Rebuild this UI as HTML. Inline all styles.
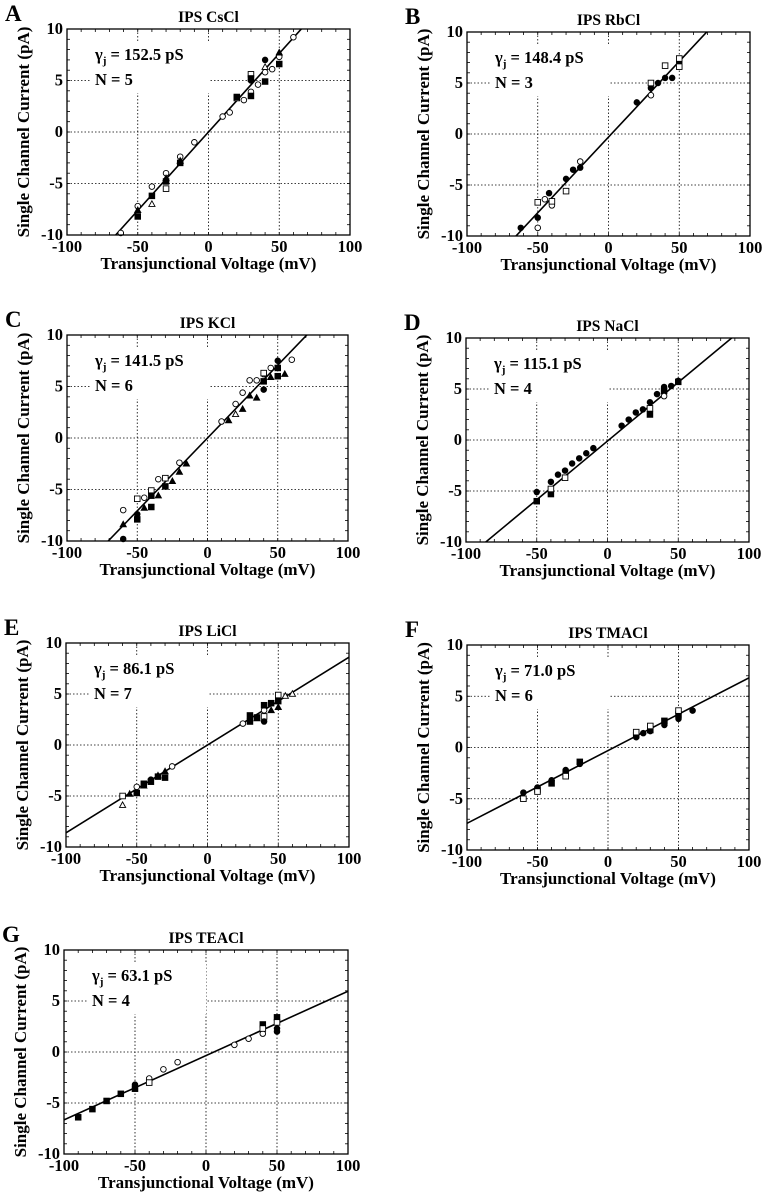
<!DOCTYPE html>
<html><head><meta charset="utf-8">
<style>
html,body{margin:0;padding:0;background:#fff;}
svg{display:block;font-family:"Liberation Serif",serif;font-weight:bold;}
</style></head>
<body>
<svg id="fig" width="768" height="1199" viewBox="0 0 768 1199" xmlns="http://www.w3.org/2000/svg"></svg>
<script>
// ---- data (mV, pA) ----
const xTicks = [-100, -50, 0, 50, 100];
const yTicks = [-10, -5, 0, 5, 10];
const panelLetters = ["A","B","C","D","E","F","G"];
const panelTitles = ["IPS CsCl","IPS RbCl","IPS KCl","IPS NaCl","IPS LiCl","IPS TMACl","IPS TEACl"];
const gammaValues = ["152.5","148.4","141.5","115.1","86.1","71.0","63.1"];
const nValues = [5,3,6,4,7,6,4];
const fitSlopes = [0.1525,0.1484,0.1415,0.1151,0.0861,0.071,0.0631];
const fitIntercepts = [0,-0.3,0,-0.1,0,-0.3,-0.35];

const dataA = {
 oc:[[-62,-9.8],[-50,-7.2],[-40,-5.3],[-30,-4],[-20,-2.4],[-10,-1],[10,1.5],[15,1.9],[25,3.1],[30,3.9],[35,4.6],[40,5.8],[45,6.1],[50,7.3],[60,9.2]],
 fc:[[40,7],[30,5]],
 os:[[30,5.6],[-30,-5.5],[20,3.3]],
 fs:[[-50,-8.2],[-40,-6.2],[-30,-4.8],[-20,-3],[20,3.4],[30,5.2],[30,3.5],[40,4.9],[50,6.6]],
 ot:[[-40,-7],[40,6.3]],
 ft:[[-50,-7.6],[50,7.7],[-30,-4.5],[-20,-2.8]]
};
const dataB = {
 fc:[[-62,-9.2],[-50,-8.2],[-42,-5.8],[-30,-4.4],[-25,-3.5],[-20,-3.3],[20,3.1],[30,4.5],[35,5],[40,5.5],[45,5.5],[50,7]],
 oc:[[-50,-9.2],[-45,-6.4],[-40,-7],[-20,-2.7],[30,3.8]],
 os:[[-50,-6.7],[-40,-6.6],[-30,-5.6],[30,5],[40,6.7],[50,7.4],[50,6.6]]
};
const dataC = {
 oc:[[-60,-7],[-45,-5.8],[-35,-4],[-20,-2.4],[10,1.6],[20,3.3],[25,4.4],[30,5.6],[35,5.6],[40,6.2],[45,6.8],[60,7.6]],
 os:[[-50,-5.9],[-40,-5.1],[-30,-3.9],[40,6.3]],
 fs:[[-50,-7.9],[-40,-5.6],[-40,-6.7],[-30,-4.7],[40,5.5],[50,6.8],[50,6]],
 fc:[[-60,-9.8],[-50,-7.4],[40,4.7],[50,7.5]],
 ft:[[-60,-8.4],[-45,-6.8],[-35,-5.6],[-25,-4.2],[-20,-3.3],[-15,-2.5],[15,1.7],[25,2.8],[35,3.9],[45,5.9],[55,6.2],[30,4.1]],
 ot:[[20,2.3]]
};
const dataD = {
 fc:[[-50,-5.1],[-40,-4.1],[-35,-3.4],[-30,-3],[-25,-2.3],[-20,-1.8],[-15,-1.3],[-10,-0.8],[10,1.4],[15,2],[20,2.7],[25,3],[30,3.7],[35,4.5],[40,5.2],[45,5.3],[50,5.8]],
 fs:[[-50,-6],[-40,-5.3],[30,2.5],[40,4.8],[50,5.7]],
 os:[[-30,-3.7],[30,3.1],[-40,-4.8]],
 oc:[[40,4.3]]
};
const dataE = {
 ft:[[-55,-4.8],[-45,-4],[-35,-3],[-30,-2.6],[35,2.6],[45,3.4],[50,3.7]],
 ot:[[-60,-5.9],[55,4.8],[60,5]],
 os:[[-60,-5],[50,4.9],[40,2.8]],
 oc:[[-50,-4.1],[-25,-2.1],[25,2.1],[40,3.4]],
 fs:[[-50,-4.7],[-45,-3.8],[-40,-3.6],[-35,-3.1],[-30,-3.2],[30,2.9],[30,2.3],[35,2.7],[40,3.9],[45,4.1],[50,4.3]],
 fc:[[-40,-3.4],[40,2.3]]
};
const dataF = {
 fc:[[-60,-4.4],[-50,-3.9],[-40,-3.2],[-30,-2.2],[-20,-1.6],[20,1],[25,1.4],[30,1.6],[40,2.2],[50,2.8],[60,3.6]],
 fs:[[-50,-4.1],[-40,-3.5],[-30,-2.5],[-20,-1.4],[20,1.2],[30,1.7],[40,2.6],[50,3.2]],
 os:[[-60,-5],[-50,-4.3],[-30,-2.8],[20,1.5],[30,2.1],[50,3.6]]
};
const dataG = {
 fs:[[-90,-6.4],[-80,-5.6],[-70,-4.8],[-60,-4.1],[-50,-3.6],[40,2.7],[50,3.4]],
 fc:[[-50,-3.2],[50,2],[50,2.3]],
 oc:[[-40,-2.6],[-30,-1.7],[-20,-1],[20,0.7],[30,1.3],[40,1.8]],
 os:[[-40,-3],[40,2.3],[50,2.9]]
};
const panelData = [dataA,dataB,dataC,dataD,dataE,dataF,dataG];

// layout (pixel boxes)
const boxes = [
 [67,350,29,235],[467,750,32,236],
 [67,348,335,541],[466,749,338,542],
 [66,349,643,847],[467,749,645,850],
 [64,348,950,1154]
];

const NS="http://www.w3.org/2000/svg";
const svg=document.getElementById('fig');
function mk(tag,attrs,parent){const e=document.createElementNS(NS,tag);for(const k in attrs)e.setAttribute(k,attrs[k]);(parent||svg).appendChild(e);return e;}

panelData.forEach((data,p)=>{
 const [L,R,T,B]=boxes[p];
 const sx=v=>L+(v+100)/200*(R-L);
 const sy=v=>B-(v+10)/20*(B-T);
 const g=mk('g',{});
 
 
 const lt=mk('text',{x:L-62,y:T-8,'font-size':23},g);lt.textContent=panelLetters[p];
 
 const tt=mk('text',{x:(L+R)/2,y:T-7,'font-size':15.5,'text-anchor':'middle'},g);tt.textContent=panelTitles[p];
 
 // grid
 xTicks.slice(1,-1).forEach(v=>{const l=mk('line',{x1:sx(v),x2:sx(v),y1:T,y2:B,stroke:'#000','stroke-width':0.8,'stroke-dasharray':'1.5,2'},g);
  });
 yTicks.slice(1,-1).forEach(v=>{const l=mk('line',{x1:L,x2:R,y1:sy(v),y2:sy(v),stroke:'#000','stroke-width':0.8,'stroke-dasharray':'1.5,2'},g);
  });
 // minor ticks
 for(let v=-90;v<100;v+=10){mk('line',{x1:sx(v),x2:sx(v),y1:T,y2:T+3,stroke:'#000','stroke-width':0.8},g);mk('line',{x1:sx(v),x2:sx(v),y1:B,y2:B-3,stroke:'#000','stroke-width':0.8},g);}
 for(let v=-9;v<10;v+=1){mk('line',{x1:L,x2:L+3,y1:sy(v),y2:sy(v),stroke:'#000','stroke-width':0.8},g);mk('line',{x1:R,x2:R-3,y1:sy(v),y2:sy(v),stroke:'#000','stroke-width':0.8},g);}
 // annotation with white background
 mk('rect',{x:L+24,y:T+14,width:118,height:50,fill:'#fff'},g);
 const gt=mk('text',{x:L+28,y:T+31,'font-size':16.5},g);
 
 gt.innerHTML='γ<tspan dy="4" font-size="11">j</tspan><tspan dy="-4"> = '+gammaValues[p]+' pS</tspan>';
 const nt=mk('text',{x:L+28,y:T+56,'font-size':16.5},g);nt.textContent='N = '+nValues[p];
 
 // clip
 const cid='clip'+p;const cp=mk('clipPath',{id:cid},g);mk('rect',{x:L,y:T,width:R-L,height:B-T},cp);
 // fit line
 const m=fitSlopes[p],c=fitIntercepts[p];
 const fl=mk('line',{x1:sx(-100),y1:sy(m*-100+c),x2:sx(100),y2:sy(m*100+c),stroke:'#000','stroke-width':1.6,'clip-path':'url(#'+cid+')'},g);
 
 // points
 const r=2.8;
 for(const type in data){data[type].forEach(([v,i])=>{
  const x=sx(v),y=sy(i);const filled=type[0]==='f';const fill=filled?'#000':'#fff';
  let e;
  if(type[1]==='c')e=mk('circle',{cx:x,cy:y,r:r,fill:fill,stroke:'#000','stroke-width':0.9},g);
  else if(type[1]==='s')e=mk('rect',{x:x-r,y:y-r,width:2*r,height:2*r,fill:fill,stroke:'#000','stroke-width':0.9},g);
  else e=mk('polygon',{points:`${x},${y-r-0.5} ${x-r-0.3},${y+r-0.5} ${x+r+0.3},${y+r-0.5}`,fill:fill,stroke:'#000','stroke-width':0.9},g);
  
 });}
 // frame
 const fr=mk('rect',{x:L,y:T,width:R-L,height:B-T,fill:'none',stroke:'#000','stroke-width':1.3},g);
 
 // tick labels
 xTicks.forEach(v=>{const t=mk('text',{x:sx(v),y:B+17,'font-size':16.5,'text-anchor':'middle'},g);t.textContent=v;
  });
 yTicks.forEach(v=>{const t=mk('text',{x:L-4,y:sy(v)+5,'font-size':16.5,'text-anchor':'end'},g);t.textContent=v;
  });
 const xt=mk('text',{x:(L+R)/2,y:B+34,'font-size':17,'text-anchor':'middle'},g);xt.textContent='Transjunctional Voltage (mV)';
 
 const yx=L-38,yy=(T+B)/2;
 const yt=mk('text',{x:yx,y:yy,'font-size':17,'text-anchor':'middle',transform:`rotate(-90 ${yx} ${yy})`},g);yt.textContent='Single Channel Current (pA)';
 
});
</script>
</body></html>
